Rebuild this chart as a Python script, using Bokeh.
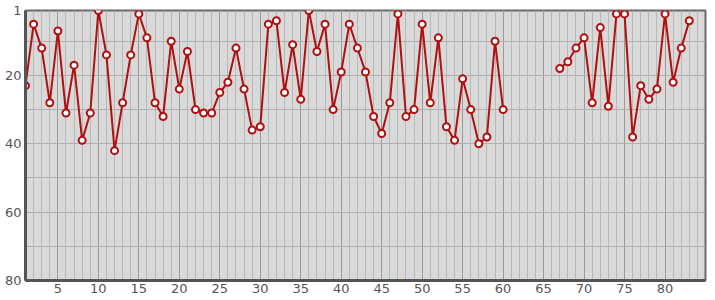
import numpy as np
from bokeh.plotting import figure
from bokeh.models import Range1d, FixedTicker, ColumnDataSource
from bokeh.embed import file_html
from bokeh.resources import INLINE

nan = float("nan")
x_values = list(range(1, 84))
ranks = [23, 5, 12, 28, 7, 31, 17, 39, 31, 1,
         14, 42, 28, 14, 2, 9, 28, 32, 10, 24,
         13, 30, 31, 31, 25, 22, 12, 24, 36, 35,
         5, 4, 25, 11, 27, 1, 13, 5, 30, 19,
         5, 12, 19, 32, 37, 28, 2, 32, 30, 5,
         28, 9, 35, 39, 21, 30, 40, 38, 10, 30,
         nan, nan, nan, nan, nan, nan,
         18, 16, 12, 9, 28, 6, 29, 2, 2, 38,
         23, 27, 24, 2, 22, 12, 4]
y_ticks = [1, 20, 40, 60, 80]
x_ticks = [5, 10, 15, 20, 25, 30, 35, 40, 45, 50, 55, 60, 65, 70, 75, 80]

src = ColumnDataSource(dict(x=x_values, y=ranks))

p = figure(width=715, height=300, output_backend="svg", toolbar_location=None,
           x_range=Range1d(1, 85), y_range=Range1d(80, 1),
           min_border_left=25, min_border_right=10, min_border_top=10,
           min_border_bottom=20)

p.background_fill_color = "#d9d9d9"
p.border_fill_color = "white"
p.outline_line_color = "#6b6b6b"
p.outline_line_width = 2

p.xaxis.ticker = FixedTicker(ticks=x_ticks)
p.yaxis.ticker = FixedTicker(ticks=y_ticks)
for ax in (p.xaxis[0], p.yaxis[0]):
    ax.axis_line_color = "#555555"
    ax.axis_line_width = 3
    ax.major_tick_line_color = None
    ax.minor_tick_line_color = None
    ax.major_tick_out = 0
    ax.major_tick_in = 0
    ax.minor_tick_out = 0
    ax.minor_tick_in = 0
    ax.major_label_text_font = "DejaVu Sans"
    ax.major_label_text_font_size = "13px"
    ax.major_label_text_color = "#555555"
p.yaxis.major_label_standoff = 4
p.xaxis.major_label_standoff = 3

p.xgrid.ticker = FixedTicker(ticks=x_ticks, minor_ticks=list(range(1, 86)))
p.xgrid.grid_line_color = "#9a9a9a"
p.xgrid.grid_line_width = 1
p.xgrid.minor_grid_line_color = "#b8b8b8"
p.xgrid.minor_grid_line_width = 1
p.ygrid.ticker = FixedTicker(ticks=[10, 20, 30, 40, 50, 60, 70])
p.ygrid.grid_line_color = "#b0b0b0"
p.ygrid.grid_line_width = 1

p.line("x", "y", source=src, line_color="#b01010", line_width=2)
p.scatter("x", "y", source=src, size=7, fill_color="white",
          line_color="#b01010", line_width=2)

open("out.html", "w").write(file_html(p, INLINE))
